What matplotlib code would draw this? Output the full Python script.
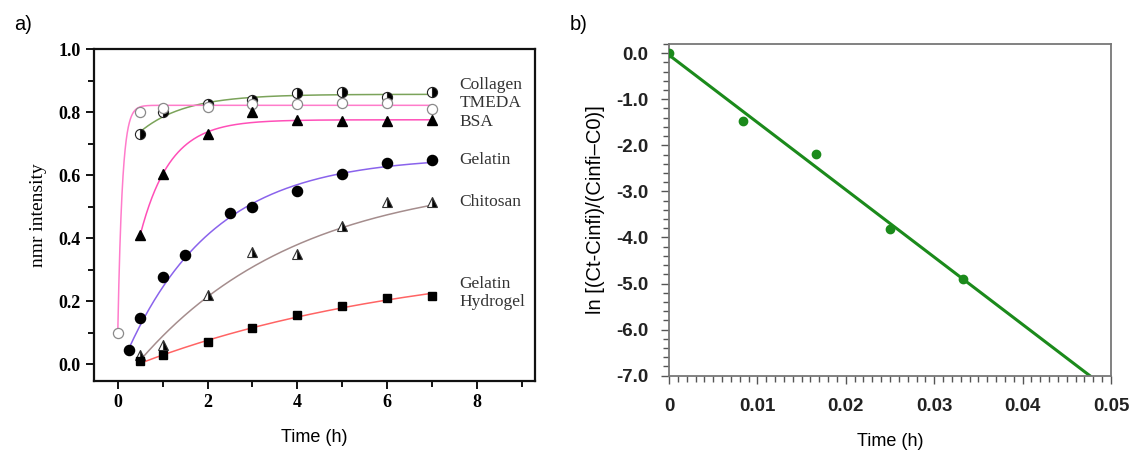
import numpy as np
import matplotlib
matplotlib.use('Agg')
import matplotlib.pyplot as plt
from matplotlib.ticker import MultipleLocator, FormatStrFormatter

# panel a) data points
t_collagen = [0.5, 1, 2, 3, 4, 5, 6, 7]
y_collagen = [0.73, 0.80, 0.825, 0.84, 0.86, 0.865, 0.85, 0.865]
t_tmeda = [0, 0.5, 1, 2, 3, 4, 5, 6, 7]
y_tmeda = [0.10, 0.80, 0.812, 0.818, 0.825, 0.827, 0.828, 0.828, 0.81]
t_bsa = [0.5, 1, 2, 3, 4, 5, 6, 7]
y_bsa = [0.41, 0.605, 0.73, 0.80, 0.775, 0.772, 0.772, 0.775]
t_gelatin = [0.25, 0.5, 1, 1.5, 2.5, 3, 4, 5, 6, 7]
y_gelatin = [0.043, 0.145, 0.275, 0.345, 0.48, 0.50, 0.55, 0.605, 0.64, 0.648]
t_chitosan = [0.5, 1, 2, 3, 4, 5, 6, 7]
y_chitosan = [0.03, 0.06, 0.22, 0.355, 0.35, 0.44, 0.515, 0.515]
t_hydrogel = [0.5, 1, 2, 3, 4, 5, 6, 7]
y_hydrogel = [0.01, 0.03, 0.07, 0.115, 0.155, 0.185, 0.21, 0.215]

# exponential fit parameters: (t0, y0, plateau, rate)
fit_collagen = (0.5, 0.738, 0.857, 1.0)
fit_tmeda = (0.0, 0.10, 0.822, 10.0)
fit_bsa = (0.5, 0.41, 0.776, 1.5)
fit_gelatin = (0.25, 0.05, 0.66, 0.51)
fit_chitosan = (0.55, 0.02, 0.60, 0.28)
fit_hydrogel = (0.55, 0.005, 0.35, 0.157)

labels = ['Collagen', 'TMEDA', 'BSA', 'Gelatin', 'Chitosan', 'Gelatin\nHydrogel']
label_y = [0.885, 0.828, 0.768, 0.648, 0.515, 0.225]

# panel b) data
t_b = [0, 0.00833, 0.01667, 0.025, 0.0333]
y_b = [0.0, -1.47, -2.19, -3.81, -4.90]
line_b_t = [0, 0.0476]
line_b_intercept = -0.04
line_b_slope = -146.2

fig = plt.figure(figsize=(11.34, 4.5), dpi=100)
ax1 = fig.add_axes([94/1134, 69.3/450, 441/1134, 331.4/450])
ax2 = fig.add_axes([669/1134, 74.3/450, 442/1134, 331.7/450])

serif = 'Liberation Serif'
sans = 'Liberation Sans'


def fit_curve(p):
    t0, y0, a, k = p
    t = np.linspace(t0, 7, 300)
    return t, a - (a - y0) * np.exp(-k * (t - t0))


curves = [(fit_collagen, '#7ba35a'), (fit_tmeda, '#ff7ccb'), (fit_bsa, '#ff4fb8'),
          (fit_gelatin, '#8a63ec'), (fit_chitosan, '#a58d8d'), (fit_hydrogel, '#ff6464')]
for p, c in curves:
    t, y = fit_curve(p)
    ax1.plot(t, y, color=c, lw=1.1, zorder=2)

ms = 7.3
ax1.plot(t_collagen, y_collagen, 'o', ms=ms, fillstyle='right', mfc='black',
         markerfacecoloralt='white', mec='#222222', mew=0.8, zorder=3)
ax1.plot(t_tmeda, y_tmeda, 'o', ms=ms, mfc='white', mec='#8a8a8a', mew=0.9, zorder=3)
ax1.plot(t_bsa, y_bsa, '^', ms=ms, color='black', zorder=3)
ax1.plot(t_gelatin, y_gelatin, 'o', ms=ms, color='black', zorder=3)
ax1.plot(t_chitosan, y_chitosan, '^', ms=ms, fillstyle='right', mfc='black',
         markerfacecoloralt='white', mec='#333333', mew=0.8, zorder=3)
ax1.plot(t_hydrogel, y_hydrogel, 's', ms=6.2, color='black', zorder=3)

for lab, ly in zip(labels, label_y):
    ax1.text(7.62, ly, lab, family=serif, fontsize=12.5, color='#333333',
             va='center', ha='left', linespacing=1.2)

ax1.set_xlim(-0.53, 9.3)
ax1.set_ylim(-0.053, 1.0)
ax1.xaxis.set_major_locator(MultipleLocator(2))
ax1.xaxis.set_minor_locator(MultipleLocator(1))
ax1.yaxis.set_major_locator(MultipleLocator(0.2))
ax1.yaxis.set_minor_locator(MultipleLocator(0.1))
ax1.tick_params(which='both', direction='out', top=False, right=False, width=1.3)
ax1.tick_params(which='major', length=6)
ax1.tick_params(which='minor', length=4)
for s in ax1.spines.values():
    s.set_linewidth(1.6)
    s.set_color('#111111')
ax1.yaxis.set_major_formatter(FormatStrFormatter('%.1f'))
for lab in ax1.get_xticklabels() + ax1.get_yticklabels():
    lab.set_family(serif)
    lab.set_fontweight('bold')
    lab.set_fontsize(13)
ax1.set_ylabel('nmr intensity', family=serif, fontsize=14, labelpad=8)
ax1.set_xlabel('Time (h)', family=sans, fontsize=13, labelpad=13)

# panel b
green = '#1b8a1b'
ax2.plot(line_b_t, [line_b_intercept + line_b_slope * t for t in line_b_t],
         color=green, lw=2.2, zorder=2)
ax2.plot(t_b, y_b, 'o', color=green, ms=6, zorder=3)
ax2.set_xlim(0, 0.05)
ax2.set_ylim(-7.0, 0.2)
ax2.set_xticks([0, 0.01, 0.02, 0.03, 0.04, 0.05])
ax2.set_xticklabels(['0', '0.01', '0.02', '0.03', '0.04', '0.05'])
ax2.xaxis.set_minor_locator(MultipleLocator(0.001))
ax2.yaxis.set_major_locator(MultipleLocator(1.0))
ax2.yaxis.set_minor_locator(MultipleLocator(0.2))
ax2.yaxis.set_major_formatter(FormatStrFormatter('%.1f'))
ax2.tick_params(which='both', direction='out', top=False, right=False,
                color='#555555', width=1.0)
ax2.tick_params(which='major', length=6)
ax2.tick_params(which='minor', length=4.5)
ax2.tick_params(axis='x', which='major', pad=10)
ax2.tick_params(axis='y', which='major', pad=9)
for s in ax2.spines.values():
    s.set_color('#777777')
    s.set_linewidth(1.3)
for lab in ax2.get_xticklabels() + ax2.get_yticklabels():
    lab.set_family(sans)
    lab.set_fontweight('bold')
    lab.set_fontsize(13.5)
    lab.set_color('#222222')
ax2.set_ylabel('ln [(Ct-Cinfi)/(Cinfi\u2013C0)]', family=sans, fontsize=14.5, labelpad=8)
ax2.set_xlabel('Time (h)', family=sans, fontsize=13, labelpad=13)

fig.text(14/1134, 1 - 25/450, 'a)', family=sans, fontsize=14.5, va='center', ha='left')
fig.text(570/1134, 1 - 25/450, 'b)', family=sans, fontsize=14.5, va='center', ha='left')

fig.savefig('out.png', dpi=100)
